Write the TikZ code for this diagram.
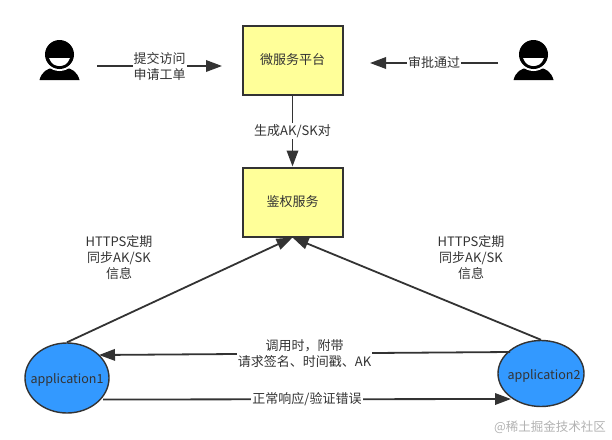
\documentclass[tikz,border=0pt]{standalone}
\usepackage{xcolor}
\usepackage{fontspec}
\setmainfont{Noto Sans CJK SC}
\usepackage{tikz}
\usetikzlibrary{arrows.meta}
\usetikzlibrary{shapes.geometric}
\definecolor{linegray}{HTML}{333333}
\definecolor{boxyellow}{HTML}{FFFF99}
\definecolor{appblue}{HTML}{3399FF}
\tikzset{
  boxnode/.style={draw=linegray, fill=boxyellow, line width=2pt, minimum width=100pt, minimum height=69pt, inner sep=0, text=linegray, font=\fontsize{13}{13}\selectfont},
  appnode/.style={draw=linegray, fill=appblue, ellipse, line width=1.4pt, inner sep=0},
  link/.style={draw=linegray, line width=1.8pt, -{Triangle[length=16pt,width=11.5pt]}},
  linklabel/.style={fill=white, inner sep=1, text=linegray, align=center, font=\fontsize{13}{16}\selectfont},
  freelabel/.style={text=linegray, align=center, font=\fontsize{13}{16}\selectfont}
}

\begin{document}
\begin{tikzpicture}[x=1pt,y=-1pt]
    \useasboundingbox (0,0) rectangle (612,439);
    \foreach \x in {59.5,533.5} {
      \fill[black] (\x-20,80) .. controls (\x-18,72) and (\x-12,68) .. (\x-6,68) -- (\x+6,68) .. controls (\x+12,68) and (\x+18,72) .. (\x+20,80) -- cycle;
      \fill[white] (\x,54.5) circle (16.5);
      \fill[black] (\x,54.5) circle (14.5);
      \fill[white] (\x-10.5,58) -- (\x+10.5,58) .. controls (\x+8,64.5) and (\x+4,66) .. (\x,66) .. controls (\x-4,66) and (\x-8,64.5) .. (\x-10.5,58) -- cycle;
    }
    \node[boxnode] (platform) at (292.5,60) {微服务平台};
    \node[boxnode] (authsvc) at (292.5,202) {鉴权服务};
    \node[appnode, minimum width=84pt, minimum height=70pt] (app1) at (67,378) {};
    \node[appnode, minimum width=86pt, minimum height=66pt] (app2) at (541,373.5) {};
    \node[freelabel, font=\fontsize{12.5}{16}\selectfont] (app1name) at (67,380) {application1};
    \node[freelabel, font=\fontsize{12.5}{16}\selectfont] (app2name) at (544,376) {application2};
    \coordinate (applyfrom) at (97,66);
    \coordinate (applyto) at (222,66);
    \coordinate (passfrom) at (498,63);
    \coordinate (passto) at (370,63);
    \coordinate (callfrom) at (510,352);
    \coordinate (callto) at (99,355);
    \coordinate (respfrom) at (103,399.5);
    \coordinate (respto) at (511,399);
    \draw[link] (applyfrom) -- node[linklabel]{提交访问\\申请工单} (applyto);
    \draw[link] (passfrom) -- node[linklabel]{审批通过} (passto);
    \draw[link] (platform) -- node[linklabel]{生成AK/SK对} (authsvc);
    \draw[link] (app1.north) -- (authsvc.south);
    \draw[link] (app2.north) -- (authsvc.south);
    \draw[link] (callfrom) -- node[linklabel]{调用时，附带\\请求签名、时间戳、AK} (callto);
    \draw[link] (respfrom) -- node[linklabel]{正常响应/验证错误} (respto);
    \node[freelabel] (syncleft) at (119,258) {HTTPS定期\\同步AK/SK\\信息};
    \node[freelabel] (syncright) at (471,258) {HTTPS定期\\同步AK/SK\\信息};
    \node[text=black!30, font=\fontsize{12.5}{12.5}\selectfont] (mark) at (550,427) {@稀土掘金技术社区};
\end{tikzpicture}
\end{document}
